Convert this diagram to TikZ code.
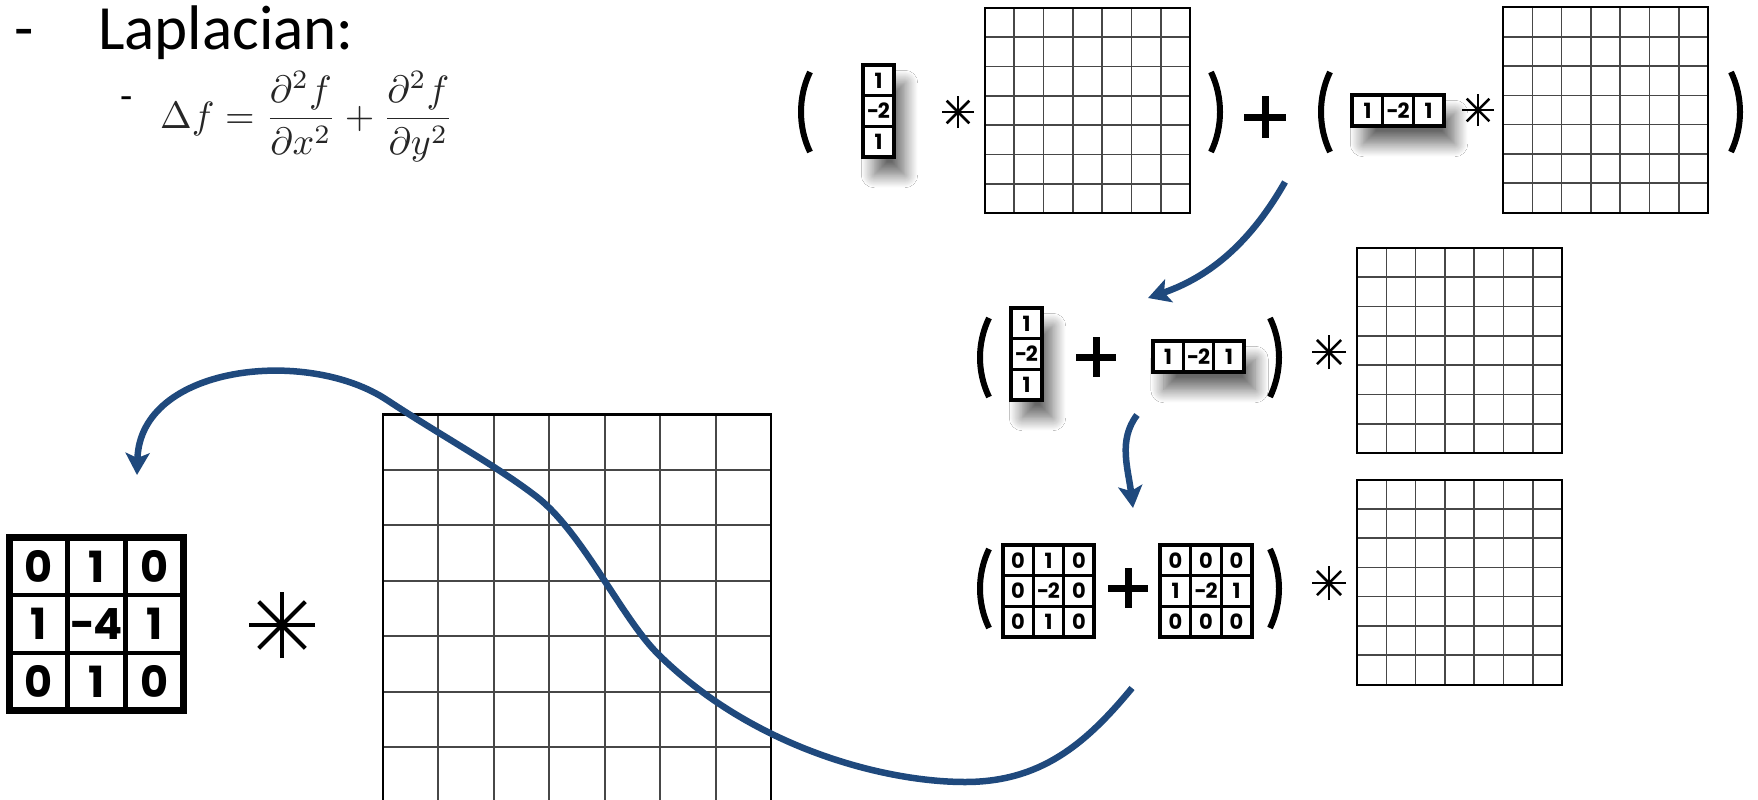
\documentclass[tikz,border=0pt]{standalone}
\usepackage{fontspec}
\usepackage{graphicx}
\newfontfamily\calib{Carlito}
\newfontfamily\kfont{Poppins}
\usetikzlibrary{matrix,calc,arrows.meta,shadows.blur}
\definecolor{arrowblue}{RGB}{31,73,125}
\tikzset{
  kcell/.style={draw=black, line width=1.5pt, minimum width=29pt, minimum height=29pt,
    text width=29pt, align=center, inner sep=0pt, outer sep=0pt, anchor=center,
    font=\kfont\bfseries\fontsize{21}{21}\selectfont},
  kbigcell/.style={kcell, line width=2.2pt, minimum width=55.5pt, minimum height=55.5pt,
    text width=55.5pt, font=\kfont\bfseries\fontsize{43}{43}\selectfont},
  kern/.style={matrix of nodes, draw=black, line width=4pt, fill=white, inner sep=0pt,
    outer sep=0pt, column sep=0pt, row sep=0pt, nodes={kcell}},
  kernsh/.style={kern, blur shadow={shadow xshift=11pt, shadow yshift=-18pt,
    shadow blur radius=13pt, shadow blur steps=16, shadow opacity=60}},
  kernbig/.style={kern, line width=7pt, nodes={kbigcell}},
  gridbox/.style={inner sep=0pt, outer sep=0pt, minimum width=205pt, minimum height=205pt},
  gridline/.style={draw=black!72, line width=1.6pt},
  gridborder/.style={draw=black, line width=2pt},
  parenline/.style={draw=black, line width=6pt},
  plusline/.style={draw=black, line width=7pt},
  bluearrow/.style={draw=arrowblue, line width=6.5pt,
    -{Stealth[length=22pt, width=24pt, inset=5pt]}},
  lbl/.style={anchor=base west, inner sep=0pt},
}
\newcommand\negnum[1]{-\kern-0.06em#1}
\newcommand\drawgridlines[1]{%
  \foreach \i in {1,...,6}{%
    \draw[gridline] ($(#1.north west)!\i/7!(#1.north east)$) -- ($(#1.south west)!\i/7!(#1.south east)$);
    \draw[gridline] ($(#1.north west)!\i/7!(#1.south west)$) -- ($(#1.north east)!\i/7!(#1.south east)$);
  }%
  \draw[gridborder] (#1.north west) rectangle (#1.south east);}
% paren: x of ends, y top, y bottom
\newcommand\lpar[3]{\draw[parenline] (#1,#2) .. controls (#1-12,#2+25) and (#1-12,#3-25) .. (#1,#3);}
\newcommand\rpar[3]{\draw[parenline] (#1,#2) .. controls (#1+12,#2+25) and (#1+12,#3-25) .. (#1,#3);}
\newcommand\plussign[3]{\draw[plusline] (#1-#3,#2) -- (#1+#3,#2) (#1,#2-#3) -- (#1,#2+#3);}
\newcommand\astsign[4]{\foreach \a in {0,45,90,135}{\draw[line width=#4] ($(#1,#2)+(\a:#3)$) -- ($(#1,#2)+(\a+180:#3)$);}}
\begin{document}
\begin{tikzpicture}[x=1pt,y=-1pt]
\useasboundingbox (0,0) rectangle (1758,800);
\fill[white] (0,0) rectangle (1758,800);

% heading
\node[lbl, font=\calib\fontsize{63}{76}\selectfont] (bul1) at (14,50) {-};
\node[lbl, font=\calib\fontsize{63}{76}\selectfont] (title) at (98,50) {Laplacian:};
\node[lbl, font=\calib\fontsize{40}{48}\selectfont] (bul2) at (120,109) {-};
\node[lbl, text=black!85] (formula) at (160,128)
  {\scalebox{3.8}{$\displaystyle \Delta f = \frac{\partial^2 f}{\partial x^2} + \frac{\partial^2 f}{\partial y^2}$}};

% big image grid (clipped at bottom)
\begin{scope}
  \clip (0,0) rectangle (1758,800);
  \node[gridbox, minimum width=388pt, minimum height=388pt] (g0) at (577,608.5) {};
  \foreach \i in {1,...,6}{%
    \draw[gridline, line width=2pt] ($(g0.north west)!\i/7!(g0.north east)$) -- ($(g0.south west)!\i/7!(g0.south east)$);
    \draw[gridline, line width=2pt] ($(g0.north west)!\i/7!(g0.south west)$) -- ($(g0.north east)!\i/7!(g0.south east)$);
  }
  \draw[gridborder, line width=2.5pt] (g0.north west) rectangle (g0.south east);
\end{scope}

% big kernel and operator
\matrix (kbig) [kernbig] at (96.5,624) {0 & 1 & 0\\ 1 & \negnum{4} & 1\\ 0 & 1 & 0\\};
\astsign{282}{625}{33}{4pt}

% top row
\lpar{810}{72}{152}
\matrix (kv1) [kernsh] at (878.5,111) {1\\ \negnum{2}\\ 1\\};
\astsign{958}{112}{16}{2.5pt}
\node[gridbox] (g1) at (1087.5,110.5) {};
\drawgridlines{g1}
\rpar{1211}{72}{152}
\plussign{1265}{117}{21}
\lpar{1330}{72}{152}
\matrix (kh1) [kernsh] at (1398,110.5) {1 & \negnum{2} & 1\\};
\astsign{1478}{110}{16}{2.5pt}
\node[gridbox] (g2) at (1605.5,110) {};
\drawgridlines{g2}
\rpar{1731}{72}{152}

% middle row
\lpar{989}{318}{397}
\matrix (kv2) [kernsh] at (1026.5,354) {1\\ \negnum{2}\\ 1\\};
\plussign{1096}{357}{20}
\matrix (kh2) [kernsh] at (1198.5,356.5) {1 & \negnum{2} & 1\\};
\rpar{1270}{318}{397}
\astsign{1329}{352}{17}{2.5pt}
\node[gridbox] (g3) at (1459.5,350.5) {};
\drawgridlines{g3}

% bottom row
\lpar{989}{549}{628}
\matrix (kA) [kern] at (1048.5,591) {0 & 1 & 0\\ 0 & \negnum{2} & 0\\ 0 & 1 & 0\\};
\plussign{1128}{588}{20}
\matrix (kB) [kern] at (1206,591) {0 & 0 & 0\\ 1 & \negnum{2} & 1\\ 0 & 0 & 0\\};
\rpar{1270}{549}{628}
\astsign{1329}{583}{17}{2.5pt}
\node[gridbox] (g4) at (1459.5,582) {};
\drawgridlines{g4}

% connectors
\coordinate (a1s) at (1285,182);
\coordinate (a1e) at (1148,298);
\draw[bluearrow] (a1s) .. controls (1252,240) and (1212,276) .. (a1e);
\coordinate (a2s) at (1137,415);
\coordinate (a2e) at (1133,508);
\draw[bluearrow] (a2s) .. controls (1118,440) and (1128,468) .. (a2e);
\coordinate (a3s) at (1132,688);
\coordinate (a3e) at (137,475);
\draw[bluearrow] (a3s) .. controls (1085,745) and (1040,782) .. (965,782)
   .. controls (885,782) and (752,748) .. (657,653)
   .. controls (622,618) and (582,532) .. (537,497)
   .. controls (497,466) and (440,435) .. (387,400)
   .. controls (307,347) and (140,365) .. (a3e);
\end{tikzpicture}
\end{document}
